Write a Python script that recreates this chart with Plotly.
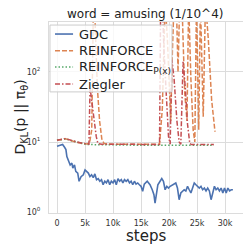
import plotly.graph_objects as go

# ---------------- data ----------------
gdc_steps = [0, 590, 1000, 1350, 1590, 1760, 2060, 2350, 2650, 2820, 3120, 3350, 3700, 3940, 4290,
             4700, 5000, 5300, 5590, 5880, 6170, 6470, 6760, 7060, 7350, 7640, 7940, 8230, 8530,
             8820, 9110, 9410, 9700, 10000, 10290, 10580, 10880, 11170, 11470, 11760, 12050, 12350,
             12640, 12940, 13230, 13520, 13820, 14110, 14400, 14700, 15000, 15290, 15580, 16100,
             16600, 17000, 17300, 17500, 17800, 18000, 18400, 18700, 19000, 19300, 19600, 19900,
             20200, 20600, 20900, 21200, 21500, 21800, 22100, 22400, 22700, 23000, 23300, 23600,
             23900, 24200, 24500, 24800, 25100, 25400, 25700, 26000, 26300, 26600, 26900, 27200,
             27500, 27800, 28100, 28400, 28700, 29000, 29300, 29600, 29900, 30200, 30500, 30800,
             31100, 31400]
gdc_vals = [8.7, 9.0, 9.2, 8.4, 7.8, 6.2, 5.3, 4.7, 5.0, 4.25, 4.7, 3.8, 3.6, 2.75, 3.2,
            3.4, 4.0, 3.8, 3.6, 3.2, 3.4, 3.1, 3.5, 2.9, 3.0, 2.75, 2.9, 2.45, 2.75,
            2.6, 2.9, 2.45, 2.75, 2.6, 2.9, 2.45, 3.0, 2.75, 2.9, 2.6, 2.9, 2.75,
            2.9, 2.6, 2.75, 2.45, 2.75, 2.5, 2.6, 2.45, 2.33, 1.98, 2.5, 2.75,
            2.45, 2.08, 1.77, 1.34, 2.0, 2.45, 2.75, 3.0, 2.75, 2.08, 2.33, 2.2,
            2.33, 2.45, 2.5, 2.6, 2.2, 1.5, 1.87, 2.0, 2.08, 2.0, 2.33, 2.08,
            1.87, 2.2, 2.6, 2.45, 2.33, 2.2, 2.33, 2.08, 2.2, 2.0, 2.2, 2.0,
            1.5, 1.87, 2.33, 2.08, 2.2, 2.0, 2.2, 1.87, 2.2, 1.87, 2.2, 2.0,
            2.08, 2.08]

reinforce_steps = [0, 800, 1500, 2500, 3500, 4500, 5300, 5800, 6200, 6500, 6800, 7200, 7600, 8000,
                   8400, 10000, 12000, 14000, 16000, 18000, 18300, 18800, 19300, 19700, 20000,
                   20300, 20600, 20900, 21300, 21600, 21900, 22300, 22800, 23200, 23500, 23900,
                   24300, 24600, 24900, 25300, 25600, 26100, 26500, 27000, 27600, 28200]
reinforce_vals = [10.6, 10.9, 11.1, 10.5, 9.9, 9.6, 9.4, 9.6, 15, 1000, 500, 60, 20, 11,
                  9.5, 9.3, 9.3, 9.3, 9.2, 9.2, 9.3, 30, 1000, 300, 60,
                  20, 200, 1000, 1000, 100, 1000, 1000, 50, 20, 1000, 80,
                  15, 10, 1000, 15, 1000, 23, 1000, 300, 40, 14]

reinforce_px_steps = [0, 800, 1500, 2500, 3500, 4500, 5500, 7000, 10000, 14000, 18000, 22000,
                      25000, 28000]
reinforce_px_vals = [10.6, 10.9, 11.1, 10.5, 9.9, 9.5, 9.2, 9.1, 9.1, 9.0, 9.0, 9.0, 9.0, 9.0]

ziegler_steps = [0, 800, 1500, 2500, 3500, 4500, 5400, 5700, 5900, 6200, 6600, 7000, 7300, 8000,
                 10000, 14000, 18000, 18300, 18500, 18800, 19100, 19500, 19900, 20200, 20500,
                 20900, 21400, 21800, 22100, 22500, 22900, 23300, 23700, 24000, 26000, 28000]
ziegler_vals = [10.6, 10.9, 11.2, 10.6, 10.0, 9.6, 9.4, 9.3, 60, 40, 20, 12, 9.5, 9.3,
                9.3, 9.2, 9.2, 9.2, 1000, 1000, 200, 40, 12, 9.3, 150,
                80, 20, 10, 9.3, 140, 60, 18, 9.5, 9.2, 9.2, 9.2]

series_names = ["GDC", "REINFORCE", "REINFORCE<sub>P(x)</sub>", "Ziegler"]
series_colors = ["#4c72b0", "#dd8452", "#55a868", "#c44e52"]
series_dashes = ["solid", "5px,2px", "1.5px,2px", "5px,2px,1.5px,2px"]

x_tickvals = [0, 5000, 10000, 15000, 20000, 25000, 30000]
x_ticktext = ["0", "5k", "10k", "15k", "20k", "25k", "30k"]
y_tickvals = [1, 10, 100]
y_ticktext = ["10<sup>0</sup>", "10<sup>1</sup>", "10<sup>2</sup>"]

# ---------------- figure ----------------
fig = go.Figure()
all_x = [gdc_steps, reinforce_steps, reinforce_px_steps, ziegler_steps]
all_y = [gdc_vals, reinforce_vals, reinforce_px_vals, ziegler_vals]
for xs, ys, nm, col, dsh in zip(all_x, all_y, series_names, series_colors, series_dashes):
    fig.add_trace(go.Scatter(x=xs, y=ys, mode="lines", name=nm,
                             line=dict(color=col, width=1.6 if dsh == "solid" else 1.5, dash=dsh)))

axis_common = dict(showgrid=True, gridcolor="#dcdcdc", gridwidth=1, zeroline=False,
                   showline=True, linecolor="#dcdcdc", linewidth=1, mirror=True,
                   ticks="")

# legend drawn as a compact matplotlib-style box (paper coordinates)
shapes = [dict(type="rect", xref="paper", yref="paper", x0=0.005, x1=0.634, y0=0.634, y1=0.984,
               fillcolor="rgba(255,255,255,0.8)", line=dict(color="#cccccc", width=1),
               layer="above")]
annotations = []
row_y = [0.937, 0.850, 0.764, 0.675]
for ry, nm, col, dsh in zip(row_y, series_names, series_colors, series_dashes):
    shapes.append(dict(type="line", xref="paper", yref="paper", x0=0.031, x1=0.124, y0=ry, y1=ry,
                       line=dict(color=col, width=1.6 if dsh == "solid" else 1.5, dash=dsh),
                       layer="above"))
    annotations.append(dict(text=nm, xref="paper", yref="paper", x=0.144, y=ry,
                            xanchor="left", yanchor="middle", showarrow=False,
                            font=dict(family="DejaVu Sans", size=13, color="#222222")))

annotations += [
    dict(text="word = amusing (1/10^4)", xref="paper", yref="paper",
         x=0.495, y=1.042, xanchor="center", yanchor="middle", showarrow=False,
         font=dict(family="DejaVu Sans", size=12, color="#222222")),
    dict(text="steps", xref="paper", yref="paper",
         x=0.5, y=-0.122, xanchor="center", yanchor="middle", showarrow=False,
         font=dict(family="DejaVu Sans", size=15, color="#222222")),
    dict(text="D<sub>KL</sub>(p || π<sub>θ</sub>)", xref="paper", yref="paper",
         x=-0.149, y=0.5, xanchor="center", yanchor="middle", showarrow=False,
         textangle=-90, font=dict(family="DejaVu Sans", size=14, color="#222222")),
]

# the page body keeps its default 8px margin, so the figure is 243px and
# margins are offset by 8px to place the plot area where the reference has it
fig.update_layout(
    width=243, height=243,
    margin=dict(l=41, r=8, t=14, b=38),
    paper_bgcolor="white", plot_bgcolor="white",
    font=dict(family="DejaVu Sans", color="#222222"),
    showlegend=False,
    shapes=shapes,
    annotations=annotations,
)
fig.update_xaxes(range=[-1430, 33200], tickvals=x_tickvals, ticktext=x_ticktext,
                 tickfont=dict(family="DejaVu Sans", size=8, color="#333333"),
                 ticklabelstandoff=2, **axis_common)
fig.update_yaxes(type="log", range=[-0.014, 2.714], tickvals=y_tickvals, ticktext=y_ticktext,
                 tickfont=dict(family="DejaVu Sans", size=8, color="#333333"),
                 ticklabelstandoff=6, **axis_common)

fig.write_html("out.html")
